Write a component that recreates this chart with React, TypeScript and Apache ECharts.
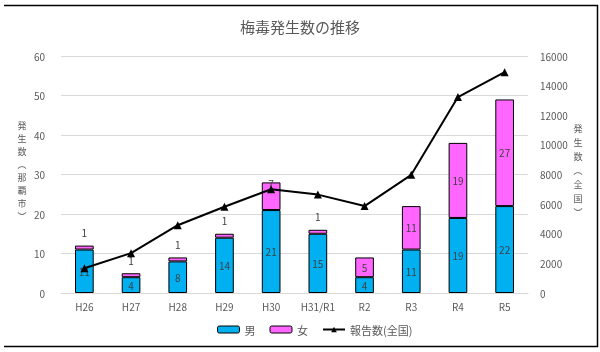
import React, { useEffect, useRef } from "react";
import * as echarts from "echarts";

const categories = ["H26", "H27", "H28", "H29", "H30", "H31/R1", "R2", "R3", "R4", "R5"];
const male = [11, 4, 8, 14, 21, 15, 4, 11, 19, 22];
const female = [1, 1, 1, 1, 7, 1, 5, 11, 19, 27];
const national = [1671, 2690, 4575, 5826, 7007, 6642, 5867, 7978, 13228, 14906];
const leftName = ["発", "生", "数", "︵", "那", "覇", "市", "︶"];
const rightName = ["発", "生", "数", "︵", "全", "国", "︶"];

const FONT = "'Noto Sans CJK JP', 'Noto Sans', sans-serif";
const LABEL = "#404040";
const AXIS = "#595959";

export default function App() {
  const ref = useRef<HTMLDivElement>(null);
  useEffect(() => {
    if (!ref.current) return;
    const chart = echarts.init(ref.current, undefined, { renderer: "svg" });
    const vText = (chars: string[], x: number, y0: number, step: number) =>
      chars.map((c, i) => ({
        type: "text",
        x,
        y: y0 + i * step,
        style: { text: c, font: `9px ${FONT}`, fill: AXIS, align: "center", verticalAlign: "middle" },
      }));
    chart.setOption({
      animation: false,
      textStyle: { fontFamily: FONT },
      title: {
        text: "梅毒発生数の推移",
        left: "center",
        top: 14,
        textStyle: { fontFamily: FONT, fontSize: 15, fontWeight: "normal", color: AXIS },
      },
      grid: { left: 61, right: 72, top: 56, bottom: 59 },
      legend: {
        bottom: 12,
        left: 212,
        itemGap: 14,
        itemWidth: 22,
        itemHeight: 7,
        textStyle: { fontFamily: FONT, fontSize: 11, color: AXIS },
        data: [
          { name: "男", itemStyle: { borderColor: "#000", borderWidth: 1 } },
          { name: "女", itemStyle: { borderColor: "#000", borderWidth: 1 } },
          { name: "報告数(全国)" },
        ],
      },
      xAxis: {
        type: "category",
        data: categories,
        axisLine: { show: true, lineStyle: { color: "#d9d9d9" } },
        axisTick: { show: false },
        axisLabel: { color: AXIS, fontSize: 10, margin: 8 },
      },
      yAxis: [
        {
          type: "value",
          min: 0,
          max: 60,
          interval: 10,
          axisLine: { show: false },
          axisTick: { show: false },
          axisLabel: { color: AXIS, fontSize: 10, margin: 16 },
          splitLine: { lineStyle: { color: "#d9d9d9" } },
        },
        {
          type: "value",
          min: 0,
          max: 16000,
          interval: 2000,
          axisLine: { show: false },
          axisTick: { show: false },
          axisLabel: { color: AXIS, fontSize: 10, margin: 12, formatter: (v: number) => String(v) },
          splitLine: { show: false },
        },
      ],
      series: [
        {
          name: "男",
          type: "bar",
          stack: "a",
          barWidth: "40%",
          data: male,
          itemStyle: { color: "#00B0F0", borderColor: "#000", borderWidth: 1 },
          label: { show: true, position: "inside", color: LABEL, fontSize: 10 },
        },
        {
          name: "女",
          type: "bar",
          stack: "a",
          data: female.map((v) => ({
            value: v,
            label: v <= 1
              ? { position: "top", distance: 8 }
              : v === 7
              ? { position: "top", distance: -6 }
              : { position: "inside" },
          })),
          itemStyle: { color: "#FF66FF", borderColor: "#000", borderWidth: 1 },
          label: { show: true, color: LABEL, fontSize: 10 },
        },
        {
          name: "報告数(全国)",
          type: "line",
          yAxisIndex: 1,
          data: national,
          symbol: "triangle",
          symbolSize: 8,
          lineStyle: { color: "#000", width: 2 },
          itemStyle: { color: "#000" },
        },
      ],
      graphic: [
        {
          type: "polyline",
          shape: { points: [[4, 5.5], [597.5, 5.5], [597.5, 346.5], [4, 346.5]] },
          style: { stroke: "#000", lineWidth: 1.5, fill: "none" },
        },
        ...vText(leftName, 22, 125, 13),
        ...vText(rightName, 578, 128, 14),
      ],
    });
    return () => chart.dispose();
  }, []);
  return <div ref={ref} style={{ position: "fixed", left: 0, top: 0, width: 600, height: 352 }} />;
}
